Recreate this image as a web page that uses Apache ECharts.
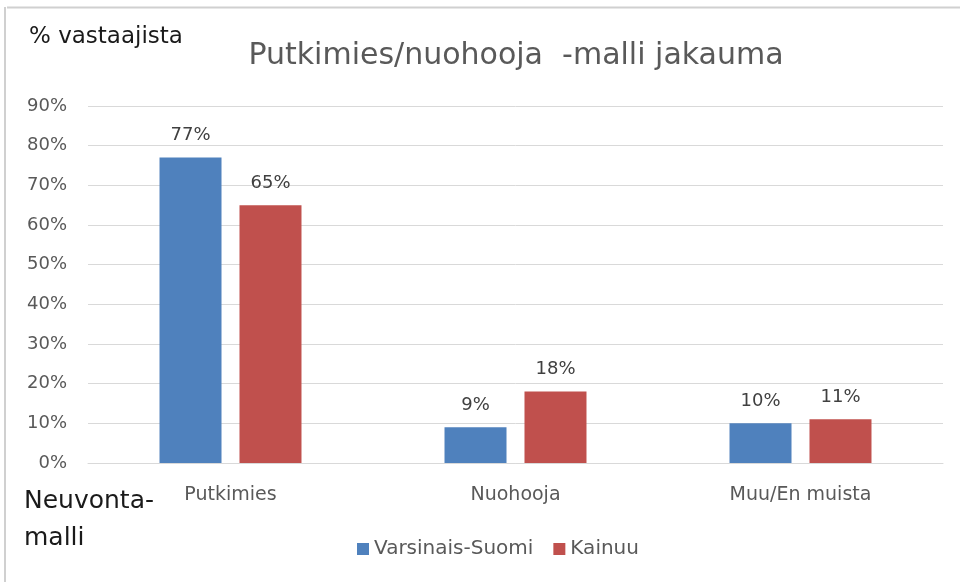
<!DOCTYPE html>
<html>
<head>
<meta charset="utf-8">
<script src="https://cdn.jsdelivr.net/npm/echarts@6/dist/echarts.min.js"></script>
<style>html,body{margin:0;padding:0;background:#fff;}#c{width:960px;height:582px;}</style>
</head>
<body>
<div id="c"></div>
<script>
const categories = ['Putkimies', 'Nuohooja', 'Muu/En muista'];
const seriesNames = ['Varsinais-Suomi', 'Kainuu'];
const varsinaisSuomi = [77, 9, 10];
const kainuu = [65, 18, 11];
const yTicks = [0, 10, 20, 30, 40, 50, 60, 70, 80, 90];

const FONT = 'DejaVu Sans';
const chart = echarts.init(document.getElementById('c'), null, {renderer: 'canvas'});
const labelCfg = {show: true, position: 'top', distance: 13, formatter: p => p.value + '%', color: '#404040', fontSize: 18, fontFamily: FONT};
chart.setOption({
  animation: false,
  backgroundColor: '#fff',
  title: {
    text: 'Putkimies/nuohooja  -malli jakauma',
    left: 511, textAlign: 'center', top: 36,
    textStyle: {fontFamily: FONT, fontSize: 30, fontWeight: 'normal', color: '#595959'}
  },
  legend: {
    data: seriesNames,
    left: 352, top: 534, itemWidth: 12, itemHeight: 12, itemGap: 20,
    icon: 'rect',
    textStyle: {fontFamily: FONT, fontSize: 20, color: '#595959'}
  },
  grid: {left: 88, right: 17, top: 106, bottom: 119, containLabel: false},
  xAxis: {
    type: 'category', data: categories,
    axisLine: {show: true, lineStyle: {color: '#d9d9d9', width: 1}},
    axisTick: {show: false},
    axisLabel: {fontFamily: FONT, fontSize: 19, color: '#595959', margin: 23}
  },
  yAxis: {
    type: 'value', min: 0, max: 90, interval: 10,
    axisLabel: {formatter: v => yTicks.includes(v) ? v + '%' : '', fontFamily: FONT, fontSize: 18, color: '#595959', margin: 21},
    splitLine: {lineStyle: {color: '#d9d9d9', width: 1}},
    axisLine: {show: false}, axisTick: {show: false}
  },
  series: [
    {name: seriesNames[0], type: 'bar', data: varsinaisSuomi, barWidth: 62, barGap: '29%',
     itemStyle: {color: '#4f81bd'}, label: labelCfg},
    {name: seriesNames[1], type: 'bar', data: kainuu, barWidth: 62,
     itemStyle: {color: '#c0504d'}, label: labelCfg}
  ],
  graphic: [
    {type: 'line', shape: {x1: 7, y1: 7.5, x2: 960, y2: 7.5}, style: {stroke: '#d0d0d0', lineWidth: 2}},
    {type: 'line', shape: {x1: 5, y1: 7, x2: 5, y2: 582}, style: {stroke: '#d0d0d0', lineWidth: 2}},
    {type: 'text', left: 29, top: 26, style: {text: '% vastaajista', fontFamily: FONT, fontSize: 23, fill: '#1a1a1a'}},
    {type: 'text', left: 24, top: 483, style: {text: 'Neuvonta-\nmalli', fontFamily: FONT, fontSize: 25, lineHeight: 37, fill: '#1a1a1a'}}
  ]
});
</script>
</body>
</html>
